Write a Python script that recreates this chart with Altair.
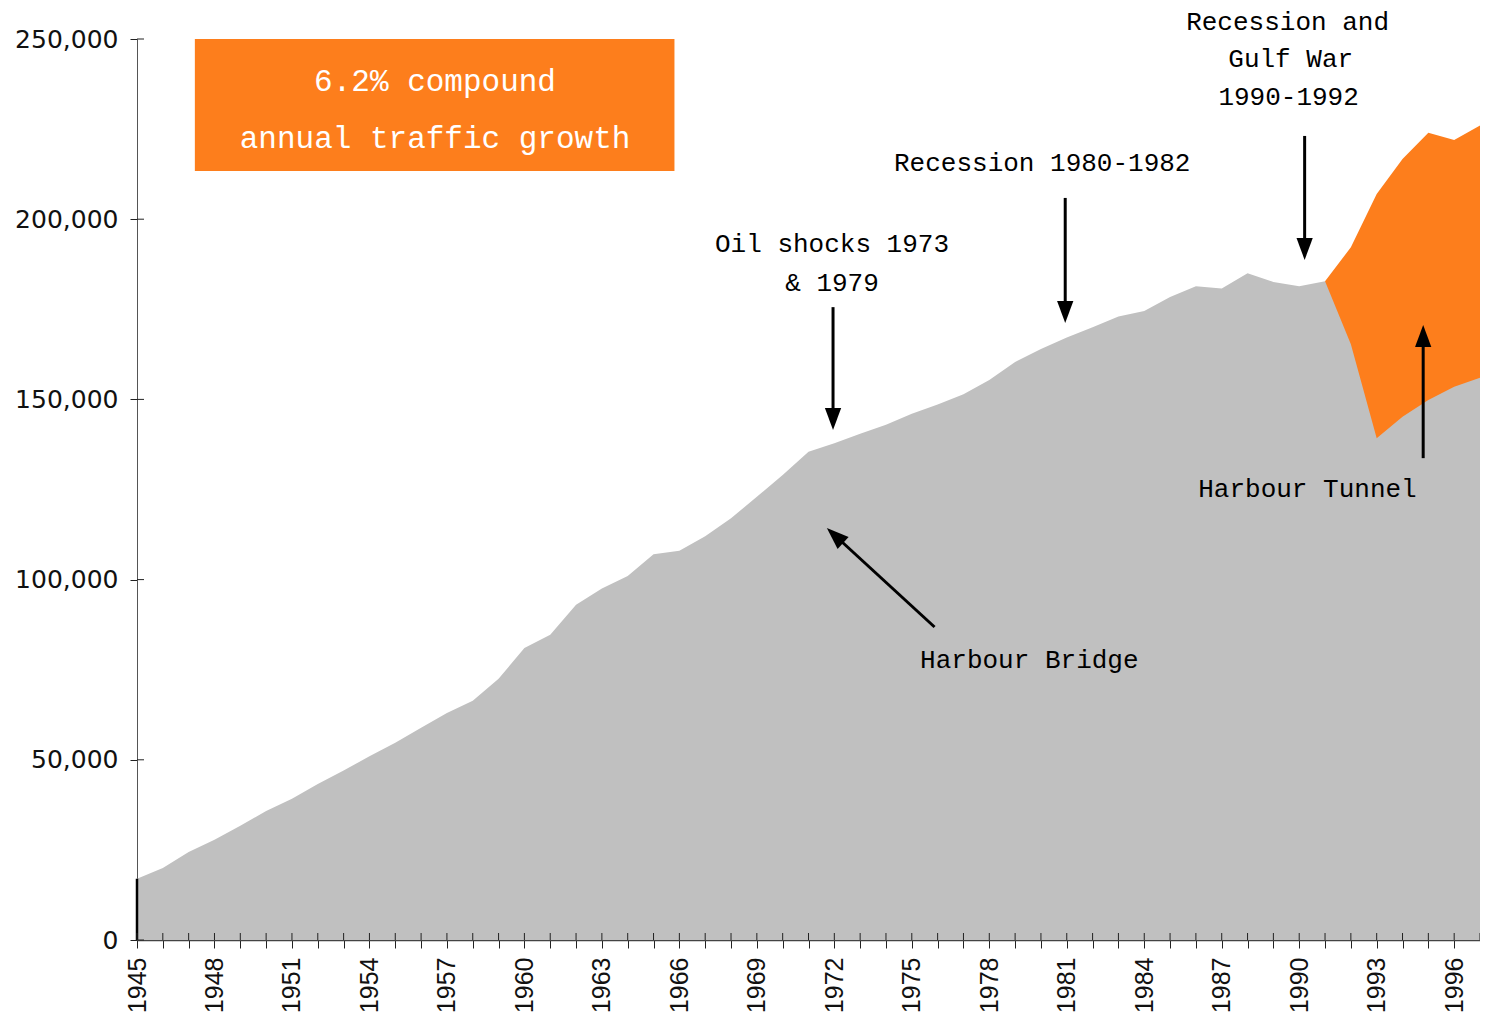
import altair as alt
import pandas as pd

# ---- data ----
years = list(range(1945, 1998))
bridge = [17000, 20000, 24400, 27800, 31700, 35800, 39200, 43300, 47000, 51000,
          54700, 58900, 63000, 66400, 72500, 81000, 84700, 93000, 97500, 101000,
          107000, 108000, 112000, 117000, 123000, 129000, 135500, 137800, 140500, 143000,
          146000, 148600, 151400, 155400, 160400, 164000, 167200, 170000, 173000, 174500,
          178400, 181400, 180800, 185000, 182600, 181400, 182800, 165300, 139200, 145200,
          149800, 153500, 156000]
total_years = [1991, 1992, 1993, 1994, 1995, 1996, 1997]
total = [182800, 192200, 207000, 216700, 224000, 222000, 226000]

y_ticks = [0, 50000, 100000, 150000, 200000, 250000]

# annotation texts (positions in data units: year, vehicles)
ann_text = ["Recession and", "Gulf War", "1990-1992", "Recession 1980-1982",
            "Oil shocks 1973", "& 1979", "Harbour Tunnel", "Harbour Bridge"]
ann_x = [1989.55, 1989.67, 1989.59, 1980.05, 1971.91, 1971.91, 1990.32, 1979.55]
ann_y = [254800, 244400, 233900, 215600, 193100, 182300, 125100, 77700]

box_text = ["6.2% compound", "annual traffic growth"]
box_text_x = [1956.54, 1956.54]
box_text_y = [238100, 222250]
box_x = [1947.24]
box_x2 = [1965.81]
box_y = [250000]
box_y2 = [213400]

# arrows: tail -> line end, tip with rotation
arr_x = [1971.95, 1980.94, 1990.21, 1994.80, 1975.88]
arr_y = [175600, 205900, 223100, 133700, 86850]
arr_x2 = [1971.95, 1980.94, 1990.21, 1994.80, 1972.11]
arr_y2 = [145400, 175100, 192600, 166760, 111680]
tip_x = [1971.95, 1980.94, 1990.21, 1994.80, 1971.71]
tip_y = [141500, 171200, 188680, 170640, 114320]
tip_angle = [180, 180, 180, 0, 312.5]

ORANGE = "#FD7E1C"
GRAY = "#C0C0C0"

W, H = 1343, 901

df_bridge = pd.DataFrame({"year": years, "value": bridge})
df_total = pd.DataFrame({"year": total_years, "value": total})
df_ann = pd.DataFrame({"year": ann_x, "value": ann_y, "t": ann_text})
df_boxt = pd.DataFrame({"year": box_text_x, "value": box_text_y, "t": box_text})
df_box = pd.DataFrame({"year": box_x, "year2": box_x2, "value": box_y, "value2": box_y2})
df_arr = pd.DataFrame({"year": arr_x, "value": arr_y, "year2": arr_x2, "value2": arr_y2})
df_tip = pd.DataFrame({"year": tip_x, "value": tip_y, "angle": tip_angle})
df_yt = pd.DataFrame({"value": y_ticks})
df_first = pd.DataFrame({"year": [years[0]], "value": [0], "value2": [bridge[0]]})

xs = alt.Scale(domain=[1945, 1997], nice=False, zero=False)
ys = alt.Scale(domain=[0, 250000], nice=False)

xaxis = alt.Axis(values=years,
                 labelExpr="(datum.value - 1945) % 3 == 0 ? toString(datum.value) : ''",
                 labelAngle=-90, labelFont="Liberation Sans", labelFontSize=25,
                 labelColor="#111", tickSize=8, tickColor="#222", tickWidth=1,
                 domainColor="#444", domainWidth=1.5, labelPadding=9, grid=False,
                 title=None, labelOverlap=False, labelBound=False, labelFlush=False)
yaxis = alt.Axis(values=y_ticks, format=",d", labelFont="DejaVu Sans",
                 labelFontSize=25, labelColor="#111", tickSize=7, tickColor="#222",
                 domainColor="#555", labelPadding=12, grid=False, title=None)

X = lambda f="year": alt.X(f"{f}:Q", scale=xs, axis=xaxis)
Y = lambda f="value": alt.Y(f"{f}:Q", scale=ys, axis=yaxis)

box = alt.Chart(df_box).mark_rect(color=ORANGE).encode(
    x=X(), x2="year2:Q", y=Y(), y2="value2:Q")

orange = alt.Chart(df_total).mark_area(color=ORANGE, opacity=1).encode(x=X(), y=Y())
gray = alt.Chart(df_bridge).mark_area(color=GRAY, opacity=1).encode(x=X(), y=Y())

edge = alt.Chart(df_first).mark_rule(color="#000", strokeWidth=2.5).encode(
    x=X(), y=Y(), y2="value2:Q")

xticks_in = alt.Chart(df_bridge).mark_rule(color="#222", strokeWidth=1).encode(
    x=X(), y=alt.value(H - 7), y2=alt.value(H))
yticks_in = alt.Chart(df_yt).mark_rule(color="#222", strokeWidth=1).encode(
    y=Y(), x=alt.value(0), x2=alt.value(7))

arrows = alt.Chart(df_arr).mark_rule(color="#000", strokeWidth=3).encode(
    x=X(), y=Y(), x2="year2:Q", y2="value2:Q")
heads = alt.Chart(df_tip).mark_point(
    shape="M0,0L-0.7,1.9L0.7,1.9Z", filled=True, color="#000", opacity=1,
    size=540, strokeWidth=0).encode(x=X(), y=Y(), angle=alt.Angle("angle:Q", scale=None))

texts = alt.Chart(df_ann).mark_text(font="Liberation Mono", fontSize=26, color="#000",
                                    align="center", baseline="middle").encode(
    x=X(), y=Y(), text="t:N")
btexts = alt.Chart(df_boxt).mark_text(font="Liberation Mono", fontSize=31, color="#fff",
                                      align="center", baseline="middle").encode(
    x=X(), y=Y(), text="t:N")

chart = alt.layer(box, orange, gray, edge, xticks_in, yticks_in, arrows, heads,
                  texts, btexts).properties(
    width=W, height=H,
    background="white",
    autosize=alt.AutoSizeParams(type="none"),
    padding={"left": 129, "top": 31, "right": 0, "bottom": 74},
).configure_view(stroke=None)

chart.save("out.html", embed_options={"renderer": "svg", "actions": False})
